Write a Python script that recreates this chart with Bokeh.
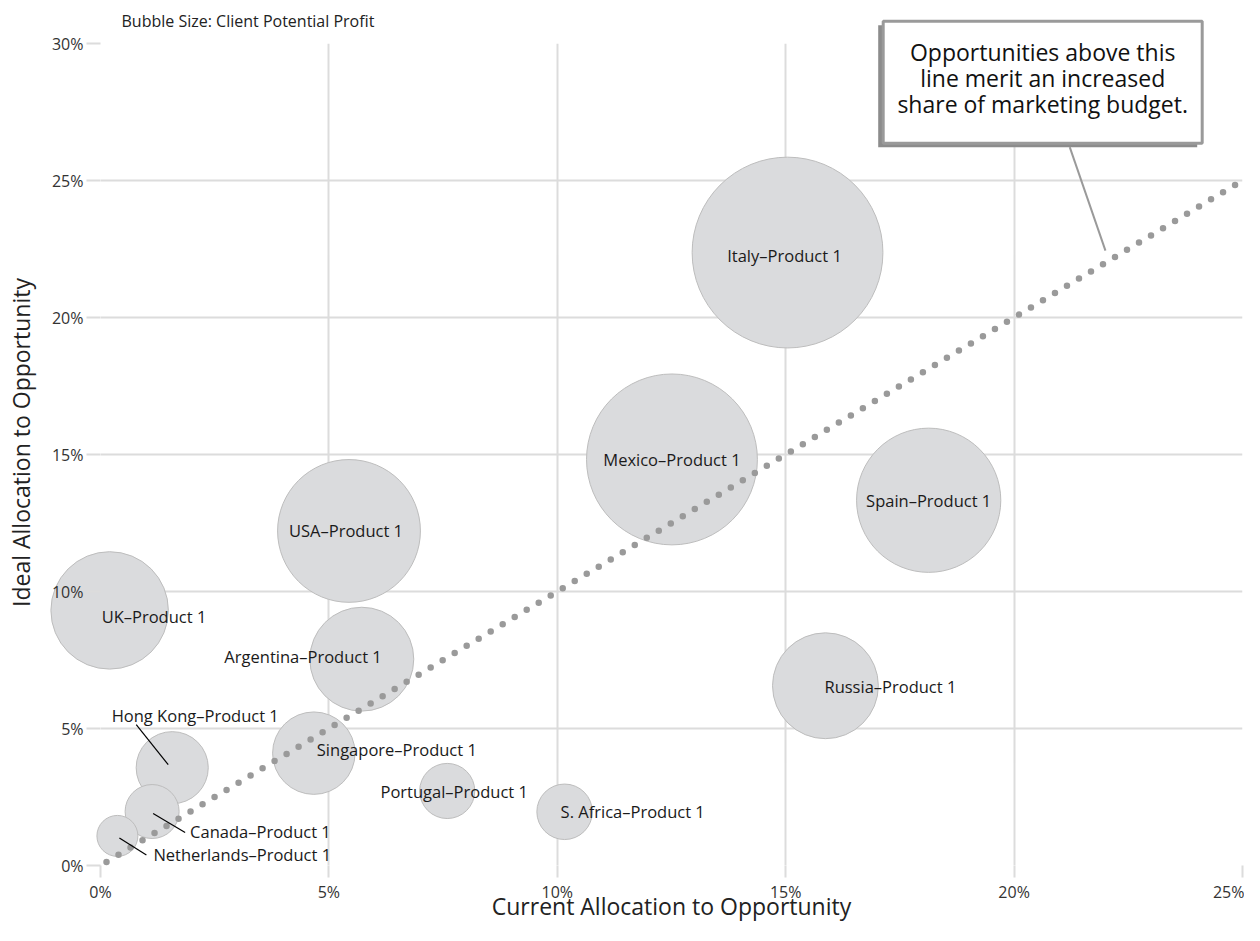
import math
from bokeh.plotting import figure
from bokeh.models import Range1d, FixedTicker, ColumnDataSource, PrintfTickFormatter
from bokeh.core.properties import value
from bokeh.embed import file_html
from bokeh.resources import INLINE

# ---------------- data ----------------
countries = ["Italy", "Mexico", "Spain", "USA", "UK", "Russia", "Argentina",
             "Singapore", "Hong Kong", "Portugal", "S. Africa", "Canada", "Netherlands"]
current_alloc = [15.04, 12.51, 18.13, 5.44, 0.20, 15.87, 5.72, 4.67, 1.57, 7.59, 10.16, 1.13, 0.37]
ideal_alloc = [22.37, 14.82, 13.33, 12.21, 9.31, 6.56, 7.53, 4.10, 3.57, 2.72, 1.96, 1.97, 1.08]
potential_profit = [91.0, 73.0, 52.0, 51.0, 34.5, 28.0, 27.0, 17.0, 13.0, 7.6, 7.7, 7.3, 4.2]
product = "Product 1"
x_ticks = [0, 5, 10, 15, 20, 25]
y_ticks = [0, 5, 10, 15, 20, 25, 30]
parity_x = [0, 25]
parity_y = [0, 25]
callout_target = 22  # point on the parity line the callout points to
subtitle = "Bubble Size: Client Potential Profit"
x_title = "Current Allocation to Opportunity"
y_title = "Ideal Allocation to Opportunity"
callout_lines = ["Opportunities above this", "line merit an increased", "share of marketing budget."]

# ---------------- styling / layout ----------------
FONT = "Open Sans"
GRID = "#dcdcdc"
W, H = 1244, 925
ML, MR, MT, MB = 100, 2, 43, 60
XMAX, YMAX = 25.0, 30.0
PX_X = (W - ML - MR) / XMAX
PX_Y = (H - MT - MB) / YMAX

# label placement: (align, x_offset px, y_offset px (down +))
label_layout = {
    "Italy": ("center", -3, 3),
    "Mexico": ("center", 0, 0),
    "Spain": ("center", 0, 0),
    "USA": ("center", -3, 0),
    "UK": ("left", -8, 6),
    "Russia": ("left", -1, 1),
    "Argentina": ("right", 20, -3),
    "Singapore": ("left", 3, -4),
    "Hong Kong": ("center", 23, -52),
    "Portugal": ("center", 7, 1),
    "S. Africa": ("left", -4, 0),
    "Canada": ("left", 38, 20),
    "Netherlands": ("left", 36, 19),
}
leaders = {
    "Hong Kong": ((-36, -43), (-4, -3)),
    "Canada": ((1, 2), (33, 21)),
    "Netherlands": ((2, 2), (29, 19)),
}

p = figure(width=W, height=H, x_range=Range1d(0, XMAX), y_range=Range1d(0, YMAX),
           output_backend="svg", toolbar_location=None,
           min_border_left=ML, min_border_right=MR, min_border_top=MT, min_border_bottom=MB)
p.outline_line_color = None
p.background_fill_color = "white"
p.border_fill_color = "white"

for ax in (p.xaxis, p.yaxis):
    ax.axis_line_color = None
    ax.major_tick_line_color = GRID
    ax.major_tick_line_width = 2
    ax.major_tick_in = 0
    ax.minor_tick_line_color = None
    ax.major_label_text_font = FONT
    ax.major_label_text_font_size = "16px"
    ax.major_label_text_color = "#333333"
    ax.formatter = PrintfTickFormatter(format="%d%%")
    ax.level = "overlay"   # tick labels stay readable on top of bubbles

p.xaxis.ticker = FixedTicker(ticks=x_ticks)
p.yaxis.ticker = FixedTicker(ticks=y_ticks)
p.xgrid.ticker = FixedTicker(ticks=x_ticks)
p.ygrid.ticker = FixedTicker(ticks=y_ticks)
p.xaxis.major_tick_out = 12
p.yaxis.major_tick_out = 14
p.xaxis.major_label_standoff = 3
p.yaxis.major_label_standoff = 3
for g in (p.xgrid, p.ygrid):
    g.grid_line_color = GRID
    g.grid_line_width = 2

# bubbles (not clipped to the frame, like the reference's UK bubble)
sizes = [20.0 * math.sqrt(v) for v in potential_profit]
src = ColumnDataSource(dict(x=current_alloc, y=ideal_alloc, size=sizes))
p.scatter("x", "y", size="size", source=src, fill_color="#dadbdd",
          line_color="#bdbdbd", line_width=1, level="annotation")

# parity (dotted) line
p.line(parity_x, parity_y, line_color="#9a9a9a", line_width=6.5, line_dash="0 14",
       line_dash_offset=7, line_cap="round", level="overlay")

# leader lines
lx0, ly0, lx1, ly1 = [], [], [], []
for c, ((ax0, ay0), (ax1, ay1)) in leaders.items():
    i = countries.index(c)
    lx0.append(current_alloc[i] + ax0 / PX_X)
    ly0.append(ideal_alloc[i] - ay0 / PX_Y)
    lx1.append(current_alloc[i] + ax1 / PX_X)
    ly1.append(ideal_alloc[i] - ay1 / PX_Y)
p.segment(lx0, ly0, lx1, ly1, line_color="black", line_width=1.2, level="overlay")

# bubble labels
for align in ("left", "center", "right"):
    d = dict(x=[], y=[], t=[], xo=[], yo=[])
    for i, c in enumerate(countries):
        a, xo, yo = label_layout[c]
        if a != align:
            continue
        d["x"].append(current_alloc[i]); d["y"].append(ideal_alloc[i])
        d["t"].append(f"{c}\u2013{product}"); d["xo"].append(xo); d["yo"].append(yo)
    p.text("x", "y", text="t", x_offset="xo", y_offset="yo", source=ColumnDataSource(d),
           text_align=align, text_baseline="middle", text_font=value(FONT),
           text_font_size="16.5px", text_color="#1a1a1a", level="overlay")

# subtitle (above the frame, anchored at the frame's top-left corner)
p.text([0], [YMAX], text=[subtitle], x_offset=21, y_offset=-23, text_align="left",
       text_baseline="middle", text_font=value(FONT), text_font_size="16px",
       text_color="#222222", level="overlay")

# x axis title (below the frame, centred)
p.text([XMAX / 2], [0], text=[x_title], y_offset=40, text_align="center",
       text_baseline="middle", text_font=value(FONT), text_font_size="23px",
       text_color="#222222", level="overlay")

# y axis title (left of the frame, rotated)
p.text([0], [YMAX / 2], text=[y_title], x_offset=-80, y_offset=-12, angle=math.pi / 2,
       text_align="center", text_baseline="middle", text_font=value(FONT),
       text_font_size="23px", text_color="#222222", level="overlay")

# callout: box with drop shadow, anchored at the frame's top-right corner
def bx(px):
    return XMAX + px / PX_X

def by(px):
    return YMAX + px / PX_Y

p.quad(left=[bx(-364.3)], right=[bx(-45.3)], top=[by(18.3)], bottom=[by(-103.7)],
       fill_color="#8c8c8c", line_color=None, level="overlay")
p.quad(left=[bx(-359.3)], right=[bx(-40.3)], top=[by(22.3)], bottom=[by(-99.7)],
       fill_color="white", line_color="#9a9a9a", line_width=3, level="overlay")
p.text([bx(-199.8)] * 3, [YMAX] * 3, text=callout_lines, y_offset=[8, 34, 60],
       text_align="center", text_baseline="alphabetic", text_font=value(FONT),
       text_font_size="23px", text_color="#111111", level="overlay")
# callout pointer towards the parity line (ends just short of it)
end_x = callout_target
end_y = callout_target + 12 / PX_Y
p.segment([end_x - 35.7 / PX_X], [end_y + 103.5 / PX_Y], [end_x], [end_y],
          line_color="#9a9a9a", line_width=2, level="overlay")

open("out.html", "w").write(file_html(p, INLINE))
